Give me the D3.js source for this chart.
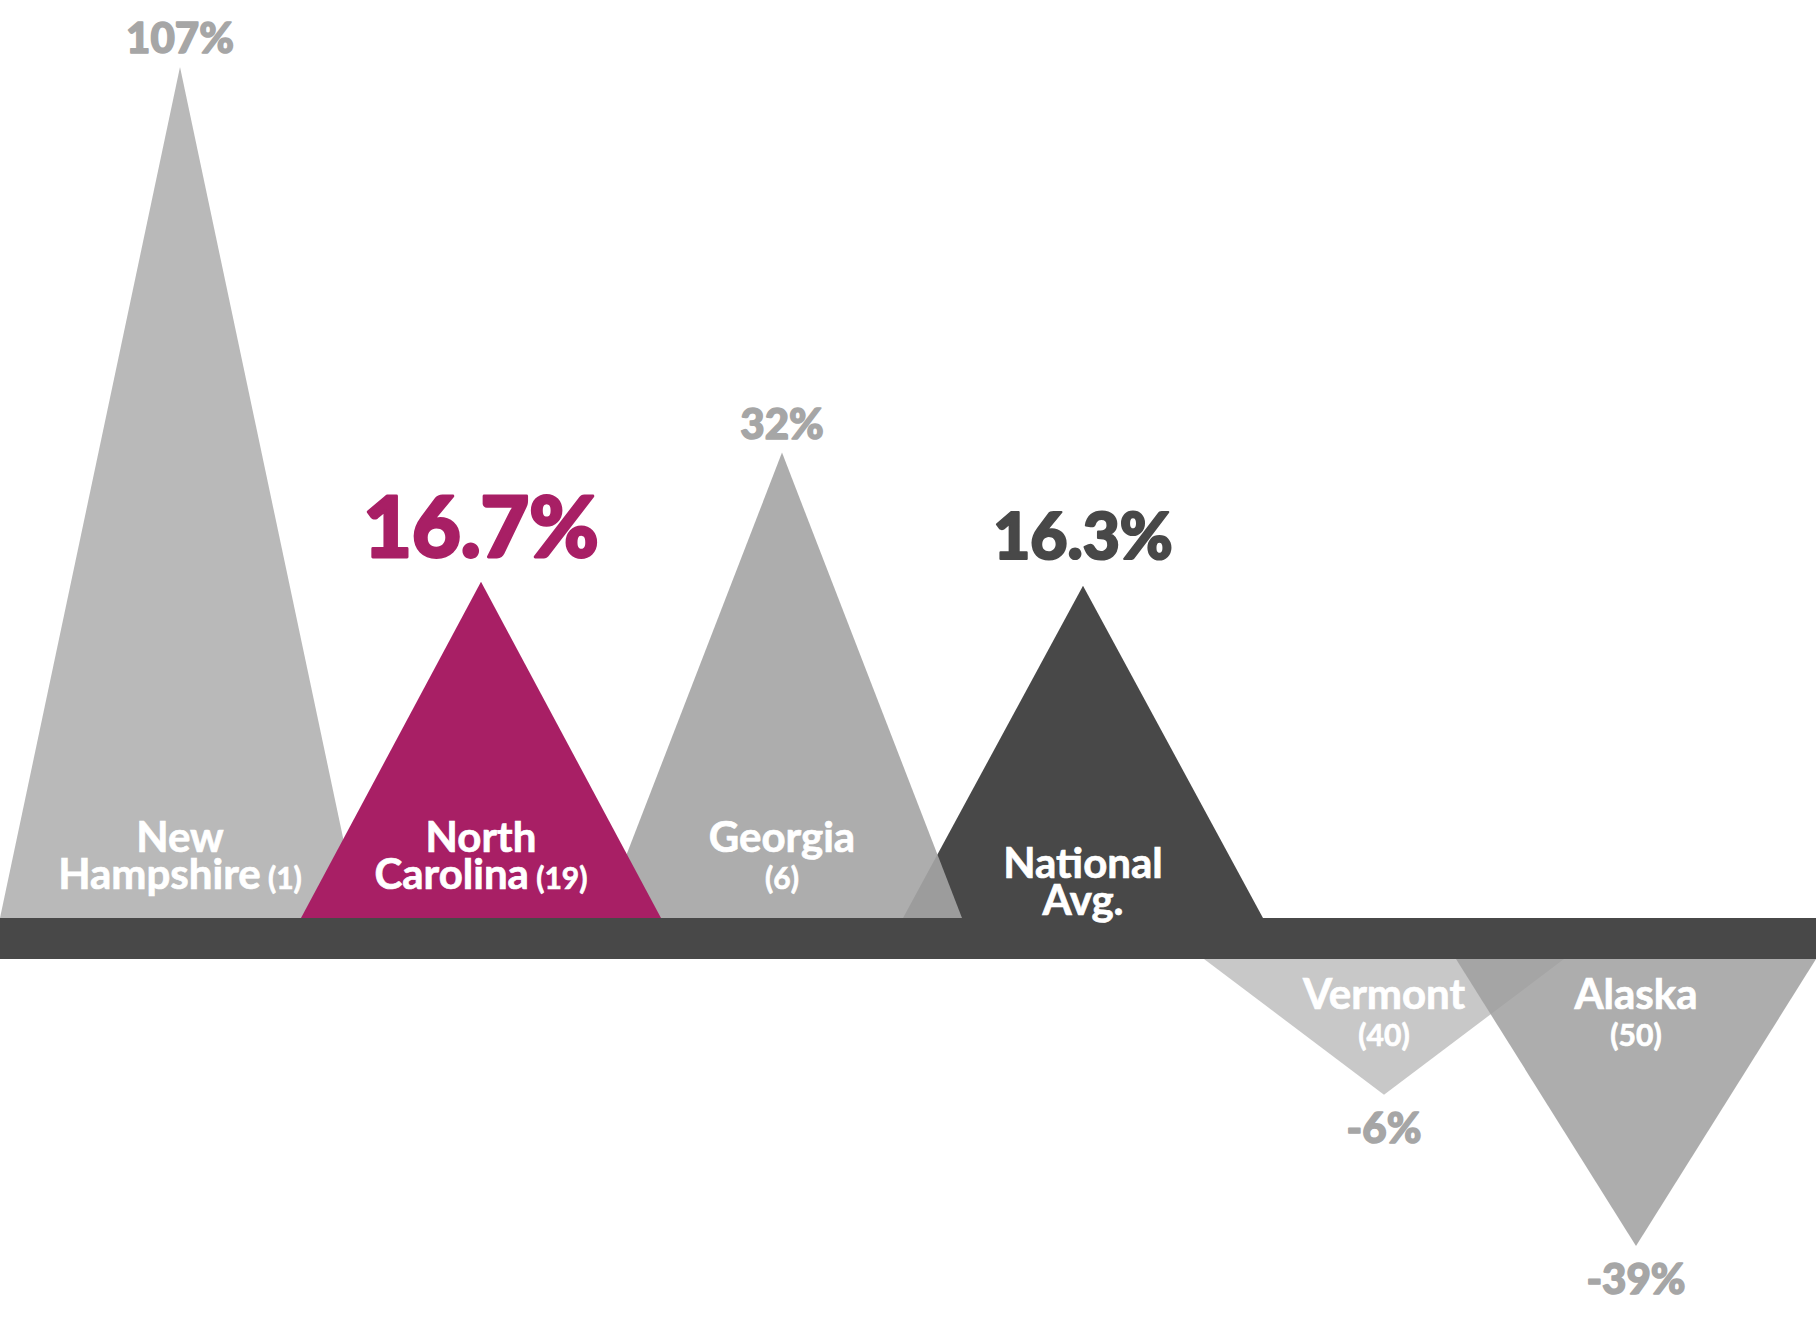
<!DOCTYPE html>
<html>
<head>
<meta charset="utf-8">
<script src="https://cdn.jsdelivr.net/npm/d3@7"></script>
<style>
  body { margin: 0; background: #fff; }
  svg { display: block; font-family: Lato, "Open Sans", sans-serif; }
</style>
</head>
<body>
<svg id="chart" width="1818" height="1331"></svg>
<script>
// ---- data ----
const categories  = ["New Hampshire", "North Carolina", "Georgia", "National Avg.", "Vermont", "Alaska"];
const values      = [107, 16.7, 32, 16.3, -6, -39];
const ranks       = [1, 19, 6, null, 40, 50];
const valueLabels = ["107%", "16.7%", "32%", "16.3%", "-6%", "-39%"];

// ---- styles ----
const styles = {
  "New Hampshire":  { fill: "#b9b9b9", opacity: 1 },
  "North Carolina": { fill: "#a81f65", opacity: 1, label: "#a81f65", size: 84, gap: 25 },
  "Georgia":        { fill: "#a5a5a5", opacity: 0.91 },
  "National Avg.":  { fill: "#484848", opacity: 1, label: "#484848", size: 64, gap: 27 },
  "Vermont":        { fill: "#c8c8c8", opacity: 1 },
  "Alaska":         { fill: "#9f9f9f", opacity: 0.855 }
};
const drawOrder = ["New Hampshire", "National Avg.", "Georgia", "North Carolina", "Vermont", "Alaska"];

// ---- layout ----
const W = 1818, H = 1331;
const barTop = 918, barBottom = 959, barRight = 1816;
const halfBase = 180, step = 301;
const topY = 67, bottomY = 1246;

const data = categories.map((c, i) => ({ name: c, value: values[i], rank: ranks[i], label: valueLabels[i] }));

const x = d3.scalePoint().domain(categories)
  .range([halfBase, halfBase + step * (categories.length - 1)]);
const cx = c => Math.min(x(c), barRight - halfBase);

const yUp = d3.scaleSqrt().domain([0, d3.max(values)]).range([barTop, topY]);
const yDown = d3.scalePow().exponent(0.4).domain([0, -d3.min(values)]).range([barBottom, bottomY]);
const apex = d => d.value >= 0 ? yUp(d.value) : yDown(-d.value);

const svg = d3.select("#chart");

// triangles
const byName = new Map(data.map(d => [d.name, d]));
svg.append("g").selectAll("path")
  .data(drawOrder.map(n => byName.get(n)))
  .join("path")
  .attr("d", d => {
    const c = cx(d.name), b = d.value >= 0 ? barTop : barBottom;
    return `M${c - halfBase},${b}L${c},${apex(d)}L${c + halfBase},${b}Z`;
  })
  .attr("fill", d => styles[d.name].fill)
  .attr("fill-opacity", d => styles[d.name].opacity);

// axis bar
svg.append("rect")
  .attr("x", 0).attr("y", barTop)
  .attr("width", barRight).attr("height", barBottom - barTop)
  .attr("fill", "#484848");

// value labels
svg.append("g").selectAll("text")
  .data(data)
  .join("text")
  .attr("x", d => cx(d.name))
  .attr("y", d => d.value >= 0 ? apex(d) - (styles[d.name].gap || 14) : apex(d) + 48)
  .attr("text-anchor", "middle")
  .attr("font-weight", 900)
  .attr("font-size", d => styles[d.name].size || 42)
  .attr("fill", d => styles[d.name].label || "#a6a6a6")
  .attr("stroke", d => styles[d.name].label || "#a6a6a6")
  .attr("stroke-width", d => (styles[d.name].size || 42) * 0.035)
  .attr("stroke-linejoin", "round")
  .text(d => d.label);

// name labels (one text element per label, lines as tspans)
const names = svg.append("g")
  .attr("fill", "#fff").attr("stroke", "#fff").attr("stroke-width", 0.7)
  .attr("font-weight", 700).attr("text-anchor", "middle");
data.forEach(d => {
  const parts = d.name.split(" ");
  const c = cx(d.name);
  let y1;
  if (d.value >= 0) y1 = d.rank ? barTop - 66 : barTop - 40;
  else y1 = barBottom + 50;
  const lh = 37;
  const t = names.append("text").attr("x", c).attr("y", y1).attr("font-size", 42);
  t.append("tspan").attr("x", c).attr("y", y1).text(parts[0]);
  if (parts.length > 1) {
    t.append("tspan").attr("x", c).attr("y", y1 + lh).text(parts.slice(1).join(" "));
    if (d.rank) t.append("tspan").attr("font-size", 30).text(` (${d.rank})`);
  } else if (d.rank) {
    t.append("tspan").attr("x", c).attr("y", y1 + lh).attr("font-size", 30).text(`(${d.rank})`);
  }
});
</script>
</body>
</html>
